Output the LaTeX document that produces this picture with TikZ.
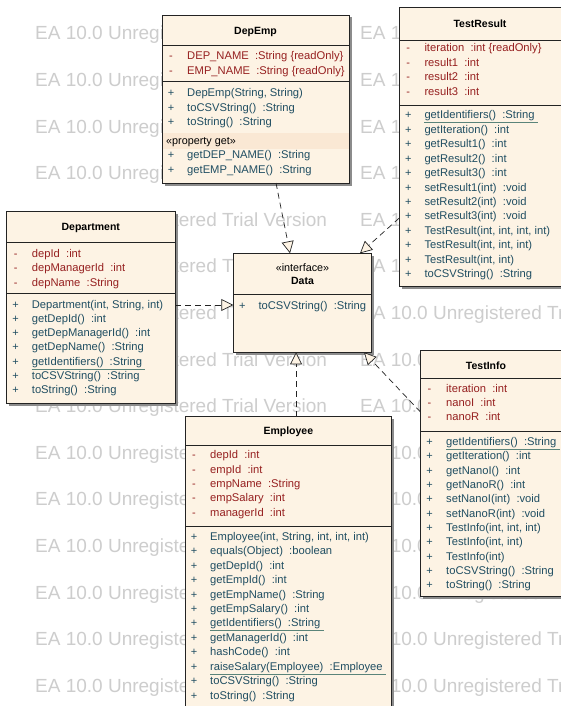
\documentclass[tikz,border=0pt]{standalone}
\usepackage{fontspec}
\setmainfont{Liberation Sans}
\usepackage{tikz}
\usetikzlibrary{arrows.meta}
\usetikzlibrary{shadows}
\usetikzlibrary{positioning}

\definecolor{boxfill}{RGB}{253,243,228}
\definecolor{propfill}{RGB}{250,232,212}
\definecolor{linecol}{RGB}{35,35,35}
\definecolor{attrcol}{RGB}{150,32,32}
\definecolor{opcol}{RGB}{32,78,98}
\definecolor{ulcol}{RGB}{90,132,122}
\definecolor{wmcol}{RGB}{205,205,205}
\definecolor{shadowcol}{RGB}{140,140,140}

\tikzset{
  classbox/.style={draw=linecol, fill=boxfill, line width=0.9pt, inner sep=0pt, outer sep=0pt, anchor=north west,
    drop shadow={shadow xshift=2.5pt, shadow yshift=-2.5pt, fill=shadowcol, opacity=1}},
  ctitle/.style={inner sep=0pt, font=\fontsize{10.5}{12}\selectfont\bfseries, text=black},
  stereo/.style={inner sep=0pt, font=\fontsize{10.8}{12}\selectfont, text=black},
  attr/.style={anchor=base west, inner sep=0pt, font=\fontsize{11.2}{13}\selectfont, text=attrcol},
  oper/.style={anchor=base west, inner sep=0pt, font=\fontsize{11.2}{13}\selectfont, text=opcol},
  vis/.style={anchor=base, inner sep=0pt, font=\fontsize{11}{13}\selectfont},
  csep/.style={draw=linecol, line width=0.8pt},
  uline/.style={draw=ulcol, line width=0.8pt},
  realize/.style={draw=linecol, line width=0.7pt, dash pattern=on 6pt off 4pt,
    -{Triangle[length=12pt, width=12pt, fill=boxfill]}},
  wmark/.style={anchor=west, inner sep=0pt, text=wmcol, font=\fontsize{19}{22}\selectfont}
}

\begin{document}
\begin{tikzpicture}[x=1pt, y=-1pt]
  \useasboundingbox[fill=white] (0,0) rectangle (561,706);

  \foreach \r in {0,1,...,14} {
    \node[wmark] (wm-a\r) at (35, 35+46.6*\r) {EA 10.0 Unregistered Trial Version};
    \node[wmark] (wm-b\r) at (360, 35+46.6*\r) {EA 10.0 Unregistered Trial Version};
  }

  % DepEmp
  \node[classbox, minimum width=187pt, minimum height=168pt] (depemp) at (162,15) {};
  \node[ctitle] (depemp-t) at (255.5,31.7) {DepEmp};
  \draw[csep] (162,45) -- (349,45);
  \draw[csep] (162,81.7) -- (349,81.7);
  \fill[propfill] (162.5,133) rectangle (348.5,149);
  \foreach \t [count=\i from 0] in {DEP\_NAME~~:String \{readOnly\}, EMP\_NAME~~:String \{readOnly\}} {
    \node[vis, text=attrcol] (depemp-av\i) at (171, 60+14.35*\i) {-};
    \node[attr] (depemp-a\i) at (187, 60+14.35*\i) {\t};
  }
  \foreach \t [count=\i from 0] in {{DepEmp(String, String)}, toCSVString()~~:String, toString()~~:String} {
    \node[vis, text=opcol] (depemp-ov\i) at (171, 96.7+14.35*\i) {+};
    \node[oper] (depemp-o\i) at (187, 96.7+14.35*\i) {\t};
  }
  \node[stereo, anchor=base west] (depemp-pg) at (166,144.4) {«property get»};
  \foreach \t [count=\i from 0] in {getDEP\_NAME()~~:String, getEMP\_NAME()~~:String} {
    \node[vis, text=opcol] (depemp-gv\i) at (171, 158.7+14.35*\i) {+};
    \node[oper] (depemp-g\i) at (187, 158.7+14.35*\i) {\t};
  }

  % TestResult
  \node[classbox, minimum width=163pt, minimum height=279pt] (testresult) at (399.3,7.7) {};
  \node[ctitle] (testresult-t) at (480,24) {TestResult};
  \draw[csep] (399.3,40.7) -- (562,40.7);
  \draw[csep] (399.3,105) -- (562,105);
  \foreach \t [count=\i from 0] in {iteration~~:int \{readOnly\}, result1~~:int, result2~~:int, result3~~:int} {
    \node[vis, text=attrcol] (testresult-av\i) at (408.3, 52+14.35*\i) {-};
    \node[attr] (testresult-a\i) at (424.3, 52+14.35*\i) {\t};
  }
  \foreach \t [count=\i from 0] in {getIdentifiers()~~:String, getIteration()~~:int, getResult1()~~:int,
      getResult2()~~:int, getResult3()~~:int, setResult1(int)~~:void, setResult2(int)~~:void,
      setResult3(int)~~:void, {TestResult(int, int, int, int)}, {TestResult(int, int, int)},
      {TestResult(int, int)}, toCSVString()~~:String} {
    \node[vis, text=opcol] (testresult-ov\i) at (408.3, 118.8+14.45*\i) {+};
    \node[oper] (testresult-o\i) at (424.3, 118.8+14.45*\i) {\t};
  }
  \draw[uline] ([yshift=-3.8pt]testresult-o0.base west) -- ([xshift=3pt, yshift=-3.8pt]testresult-o0.base east);

  % Department
  \node[classbox, minimum width=168.3pt, minimum height=191.6pt] (department) at (6.7,211.7) {};
  \node[ctitle] (department-t) at (90.8,228.3) {Department};
  \draw[csep] (6.7,242.3) -- (175,242.3);
  \draw[csep] (6.7,293.3) -- (175,293.3);
  \foreach \t [count=\i from 0] in {depId~~:int, depManagerId~~:int, depName~~:String} {
    \node[vis, text=attrcol] (department-av\i) at (15.7, 257.4+14.35*\i) {-};
    \node[attr] (department-a\i) at (31.7, 257.4+14.35*\i) {\t};
  }
  \foreach \t [count=\i from 0] in {{Department(int, String, int)}, getDepId()~~:int, getDepManagerId()~~:int,
      getDepName()~~:String, getIdentifiers()~~:String, toCSVString()~~:String, toString()~~:String} {
    \node[vis, text=opcol] (department-ov\i) at (15.7, 308+14.3*\i) {+};
    \node[oper] (department-o\i) at (31.7, 308+14.3*\i) {\t};
  }
  \draw[uline] ([yshift=-3.8pt]department-o4.base west) -- ([xshift=3pt, yshift=-3.8pt]department-o4.base east);

  % Data
  \node[classbox, minimum width=138.4pt, minimum height=99pt] (data) at (233.3,253.3) {};
  \node[stereo] (data-s) at (302.5,267.7) {«interface»};
  \node[ctitle] (data-t) at (302.5,280.7) {Data};
  \draw[csep] (233.3,294.3) -- (371.7,294.3);
  \node[vis, text=opcol] (data-ov0) at (242.3,309.4) {+};
  \node[oper] (data-o0) at (258.3,309.4) {toCSVString()~~:String};

  % TestInfo
  \node[classbox, minimum width=141.5pt, minimum height=246.7pt] (testinfo) at (420.5,350) {};
  \node[ctitle] (testinfo-t) at (486,365.7) {TestInfo};
  \draw[csep] (420.5,378.3) -- (562,378.3);
  \draw[csep] (420.5,431) -- (562,431);
  \foreach \t [count=\i from 0] in {iteration~~:int, nanoI~~:int, nanoR~~:int} {
    \node[vis, text=attrcol] (testinfo-av\i) at (429.5, 392+14.35*\i) {-};
    \node[attr] (testinfo-a\i) at (446, 392+14.35*\i) {\t};
  }
  \foreach \t [count=\i from 0] in {getIdentifiers()~~:String, getIteration()~~:int, getNanoI()~~:int,
      getNanoR()~~:int, setNanoI(int)~~:void, setNanoR(int)~~:void, {TestInfo(int, int, int)},
      {TestInfo(int, int)}, TestInfo(int), toCSVString()~~:String, toString()~~:String} {
    \node[vis, text=opcol] (testinfo-ov\i) at (429.5, 445.4+14.33*\i) {+};
    \node[oper] (testinfo-o\i) at (446, 445.4+14.33*\i) {\t};
  }
  \draw[uline] ([yshift=-3.8pt]testinfo-o0.base west) -- ([xshift=3pt, yshift=-3.8pt]testinfo-o0.base east);

  % Employee
  \node[classbox, minimum width=206.7pt, minimum height=300pt] (employee) at (185,416.7) {};
  \node[ctitle] (employee-t) at (288.3,431.7) {Employee};
  \draw[csep] (185,445) -- (391.7,445);
  \draw[csep] (185,526.7) -- (391.7,526.7);
  \foreach \t [count=\i from 0] in {depId~~:int, empId~~:int, empName~~:String, empSalary~~:int, managerId~~:int} {
    \node[vis, text=attrcol] (employee-av\i) at (194, 458.7+14.35*\i) {-};
    \node[attr] (employee-a\i) at (210, 458.7+14.35*\i) {\t};
  }
  \foreach \t [count=\i from 0] in {{Employee(int, String, int, int, int)}, equals(Object)~~:boolean,
      getDepId()~~:int, getEmpId()~~:int, getEmpName()~~:String, getEmpSalary()~~:int,
      getIdentifiers()~~:String, getManagerId()~~:int, hashCode()~~:int,
      raiseSalary(Employee)~~:Employee, toCSVString()~~:String, toString()~~:String} {
    \node[vis, text=opcol] (employee-ov\i) at (194, 540.4+14.42*\i) {+};
    \node[oper] (employee-o\i) at (210, 540.4+14.42*\i) {\t};
  }
  \draw[uline] ([yshift=-3.8pt]employee-o6.base west) -- ([xshift=3pt, yshift=-3.8pt]employee-o6.base east);
  \draw[uline] ([yshift=-3.8pt]employee-o9.base west) -- ([xshift=3pt, yshift=-3.8pt]employee-o9.base east);

  \draw[realize] ([xshift=20.5pt]depemp.south) -- ([xshift=-12.5pt]data.north);
  \draw[realize] ([yshift=-70.8pt]testresult.west) -- ([xshift=57.5pt]data.north);
  \draw[realize] ([yshift=2.5pt]department.east) -- ([yshift=2.5pt]department.east -| data.west);
  \draw[realize] ([xshift=7.7pt]employee.north) -- ([xshift=7.7pt]employee.north |- data.south);
  \draw[realize] ([yshift=61.3pt]testinfo.west) -- ([xshift=61.5pt]data.south);
\end{tikzpicture}
\end{document}
